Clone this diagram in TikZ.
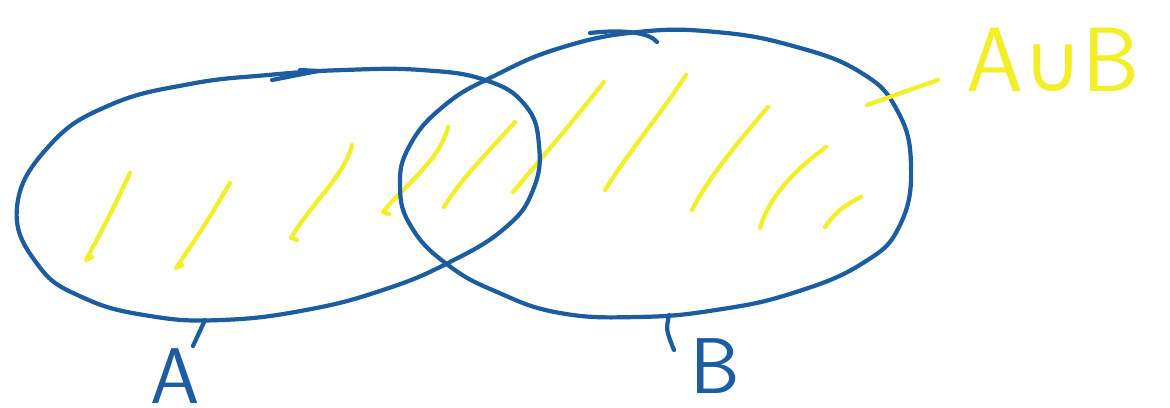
\documentclass[tikz,border=0pt]{standalone}
\usepackage{fontspec}
\newfontfamily\cupfont{DejaVu Sans}
\begin{document}
\begin{tikzpicture}[x=0.02cm,y=-0.02cm,
  blueline/.style={draw=penblue,line width=2.4pt,line cap=round,line join=round},
  yellowline/.style={draw=penyellow,line width=2.4pt,line cap=round,line join=round},
  bluelabel/.style={text=penblue,font=\sffamily\fontsize{45}{45}\selectfont,inner sep=0pt},
  yellowlabel/.style={text=penyellow,font=\sffamily\fontsize{52}{52}\selectfont,inner sep=0pt}]
\definecolor{penblue}{RGB}{28,92,160}
\definecolor{penyellow}{RGB}{242,238,40}
\useasboundingbox (0,0) rectangle (1170,408);
% yellow hatching
\draw[yellowline] (130,173) .. controls (110,215) .. (86,260) -- (92,257);
\draw[yellowline] (230,183) .. controls (205,225) .. (176,268) -- (182,265);
\draw[yellowline] (352,145) .. controls (345,175) and (310,205) .. (291,238) -- (297,240);
\draw[yellowline] (448,127) .. controls (440,160) and (405,185) .. (383,212) -- (389,214);
\draw[yellowline] (515,122) .. controls (490,150) and (460,180) .. (444,207);
\draw[yellowline] (604,82) .. controls (570,125) and (540,160) .. (513,192);
\draw[yellowline] (686,75) .. controls (660,115) and (630,150) .. (605,190);
\draw[yellowline] (768,107) .. controls (740,140) and (710,175) .. (692,210);
\draw[yellowline] (826,147) .. controls (795,170) and (770,195) .. (760,228);
\draw[yellowline] (861,197) .. controls (848,203) and (835,212) .. (825,227);
% ellipse A
\draw[blueline] plot[smooth cycle,tension=0.75] coordinates {
 (17,207) (50,145) (110,105) (190,84) (268,75) (344,70) (421,70) (485,80)
 (525,105) (539,145) (533,190) (505,228) (448,263) (383,290)
 (306,310) (222,320) (150,316) (84,298) (38,265)};
% ellipse B
\draw[blueline] plot[smooth cycle,tension=0.75] coordinates {
 (400,187) (410,145) (445,105) (494,76) (560,48) (638,32) (716,32)
 (793,46) (860,72) (897,110) (911,165) (900,225) (863,263)
 (793,293) (716,310) (638,317) (560,313) (497,292) (448,265) (412,228)};
% small marks on top
\draw[blueline] (272,80) -- (318,71) -- (300,70);
\draw[blueline] (590,33) .. controls (625,29) and (650,33) .. (657,42);
% ticks to labels
\coordinate (ta1) at (205,320); \coordinate (ta2) at (193,346);
\coordinate (tb1) at (669,315); \coordinate (tb2) at (674,350);
\draw[blueline] (ta1) -- (ta2);
\draw[blueline] (tb1) .. controls (666,330) .. (tb2);
\coordinate (tu1) at (867,105); \coordinate (tu2) at (938,80);
\draw[yellowline] (tu1) -- (tu2);
% labels
\node[bluelabel,anchor=north west] (labA) at (150,348) {A};
\node[bluelabel,anchor=north west] (labB) at (690,338) {B};
\node[yellowlabel,anchor=west] (labU) at (966,60) {A{\cupfont\fontsize{46}{46}\selectfont ∪}B};
\end{tikzpicture}
\end{document}
